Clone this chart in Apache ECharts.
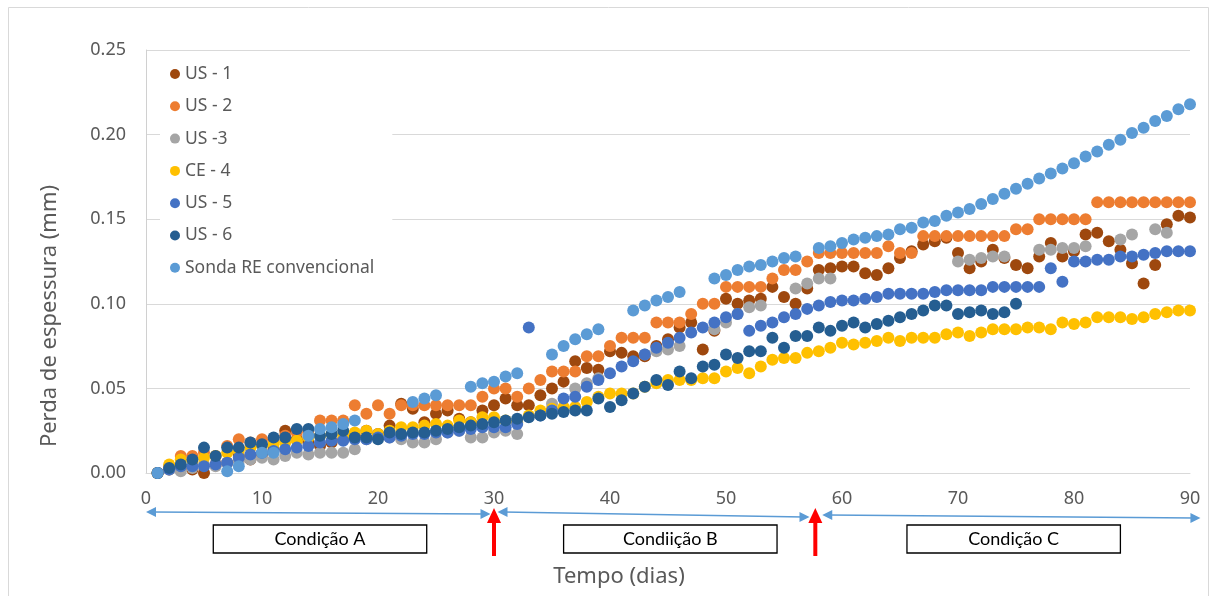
<!DOCTYPE html>
<html>
<head>
<meta charset="utf-8">
<script src="https://cdn.jsdelivr.net/npm/echarts@6/dist/echarts.min.js"></script>
<style>html,body{margin:0;padding:0;background:#fff}#c{width:1216px;height:596px}</style>
</head>
<body>
<div id="c"></div>
<script>
const days = [1,2,3,4,5,6,7,8,9,10,11,12,13,14,15,16,17,18,19,20,21,22,23,24,25,26,27,28,29,30,31,32,33,34,35,36,37,38,39,40,41,42,43,44,45,46,47,48,49,50,51,52,53,54,55,56,57,58,59,60,61,62,63,64,65,66,67,68,69,70,71,72,73,74,75,76,77,78,79,80,81,82,83,84,85,86,87,88,89,90];

const us1 = [0,0.002,0.003,0.002,0.000,0.005,0.006,0.010,0.008,0.011,0.014,0.025,0.020,0.018,0.016,0.018,0.020,0.022,0.025,0.023,
0.028,0.041,0.038,0.030,0.035,0.037,0.032,0.030,0.037,0.040,0.044,0.040,0.040,0.046,0.050,0.054,0.066,0.062,0.061,0.072,
0.071,0.069,0.069,0.075,0.079,0.086,0.089,0.073,0.084,0.103,0.100,0.102,0.103,0.110,0.104,0.100,0.109,0.120,0.121,0.122,
0.122,0.118,0.117,0.121,0.127,0.131,0.135,0.137,0.139,0.130,0.121,0.125,0.132,0.127,0.123,0.121,0.128,0.136,0.128,0.131,
0.141,0.142,0.137,0.132,0.124,0.112,0.123,0.147,0.152,0.151];

const us2 = [0,0.004,0.010,0.010,0.012,0.010,0.016,0.020,0.018,0.020,0.019,0.022,0.024,0.025,0.031,0.031,0.031,0.040,0.035,0.040,
0.035,0.040,0.040,0.040,0.040,0.040,0.040,0.040,0.045,0.050,0.050,0.045,0.050,0.055,0.060,0.060,0.060,0.069,0.069,0.075,
0.080,0.080,0.080,0.089,0.089,0.089,0.094,0.100,0.100,0.110,0.110,0.110,0.110,0.115,0.120,0.120,0.125,0.130,0.130,0.130,
0.130,0.130,0.130,0.134,0.130,0.130,0.140,0.140,0.140,0.140,0.140,0.140,0.140,0.140,0.144,0.144,0.150,0.150,0.150,0.150,
0.150,0.160,0.160,0.160,0.160,0.160,0.160,0.160,0.160,0.160];

const us3 = [0,0.002,0.001,0.003,0.005,0.004,0.006,0.007,0.008,0.009,0.008,0.010,0.012,0.011,0.012,0.012,0.012,0.014,0.020,0.021,
0.021,0.020,0.018,0.018,0.020,0.024,0.025,0.021,0.021,0.024,0.025,0.023,null,null,0.041,null,0.050,0.053,0.056,null,
null,null,0.070,0.072,0.073,0.075,null,null,0.085,0.089,0.094,0.098,0.099,null,null,0.109,0.112,0.115,0.115,null,
null,null,null,null,null,null,null,null,null,0.125,0.126,0.127,0.128,0.128,null,null,0.132,0.132,0.133,0.133,
0.134,null,null,0.138,0.141,null,0.144,0.142,null,null];

const ce4 = [0,0.005,0.008,0.007,0.009,0.010,0.012,0.013,0.015,0.016,0.017,0.018,0.019,0.021,0.022,0.023,0.022,0.024,0.025,0.023,
0.025,0.027,0.027,0.028,0.029,0.028,0.031,0.030,0.033,0.033,0.031,0.030,0.034,0.037,0.038,0.039,0.039,0.042,0.045,0.047,
0.047,0.047,0.051,0.053,0.055,0.055,0.055,0.056,0.056,0.060,0.062,0.059,0.063,0.067,0.068,0.068,0.071,0.072,0.074,0.077,
0.076,0.077,0.078,0.080,0.078,0.080,0.080,0.080,0.082,0.083,0.081,0.083,0.085,0.085,0.085,0.086,0.086,0.085,0.089,0.088,
0.089,0.092,0.092,0.092,0.091,0.092,0.094,0.095,0.096,0.096];

const us5 = [0,0.002,0.004,0.004,0.004,0.005,0.006,0.009,0.011,0.012,0.013,0.014,0.015,0.016,0.018,0.019,0.019,0.020,0.020,0.021,
0.021,0.022,0.023,0.023,0.024,0.024,0.025,0.026,0.027,0.027,0.027,0.029,0.086,0.034,0.037,0.044,0.045,0.051,0.055,0.059,
0.063,0.066,0.070,0.074,0.077,0.080,0.083,0.086,0.089,0.092,0.094,0.084,0.087,0.089,0.092,0.094,0.097,0.099,0.101,0.102,
0.102,0.103,0.104,0.106,0.106,0.106,0.106,0.107,0.108,0.108,0.108,0.108,0.110,0.110,0.110,0.110,0.110,0.121,0.113,0.125,
0.125,0.126,0.126,0.128,0.128,0.129,0.130,0.131,0.131,0.131];

const us6 = [0,0.003,0.005,0.008,0.015,0.010,0.015,0.015,0.018,0.017,0.021,0.021,0.026,0.026,0.022,0.023,0.025,0.021,0.021,0.020,
0.024,0.023,0.024,0.024,0.025,0.026,0.027,0.028,0.029,0.030,0.031,0.032,0.033,0.034,0.035,0.036,0.037,0.037,0.044,0.039,
0.043,0.047,0.051,0.055,0.052,0.060,0.056,0.063,0.064,0.070,0.068,0.072,0.072,0.080,0.074,0.081,0.081,0.086,0.084,0.087,
0.089,0.086,0.088,0.090,0.092,0.094,0.096,0.099,0.099,0.094,0.095,0.096,0.094,0.095,0.100,null,null,null,null,null,
null,null,null,null,null,null,null,null,null,null];

const sonda = [0,null,null,null,null,null,0.001,0.004,null,0.012,0.012,null,null,0.022,0.026,0.027,0.029,0.031,null,null,
null,null,0.042,0.044,0.046,null,null,0.051,0.053,0.054,0.057,0.059,null,null,0.070,0.075,0.079,0.082,0.085,null,
null,0.096,0.099,0.102,0.104,0.107,null,null,0.115,0.117,0.120,0.122,0.123,0.125,0.127,0.128,null,0.133,0.134,0.136,
0.138,0.139,0.140,0.141,0.144,0.145,0.148,0.149,0.152,0.154,0.156,0.159,0.162,0.165,0.168,0.171,0.174,0.177,0.180,0.183,
0.187,0.190,0.194,0.197,0.201,0.204,0.208,0.211,0.215,0.218];

const seriesNames = ['US - 1','US - 2','US -3','CE - 4','US - 5','US - 6','Sonda RE convencional'];
const seriesColors = ['#9E480E','#ED7D31','#A5A5A5','#FFC000','#4472C4','#255E91','#5B9BD5'];
const seriesValues = [us1, us2, us3, ce4, us5, us6, sonda];

const yTicks = [0, 0.05, 0.10, 0.15, 0.20, 0.25];
const xTicks = [0, 10, 20, 30, 40, 50, 60, 70, 80, 90];
const xTitle = 'Tempo (dias)';
const yTitle = 'Perda de espessura (mm)';

const conditions = [
  {label: 'Condição A', from: 5.8, to: 24.2},
  {label: 'Condiição B', from: 36.0, to: 54.4},
  {label: 'Condição C', from: 65.6, to: 84.0}
];
const spans = [[0, 29.7], [30.3, 57.2], [58.3, 90.9]];
const changeDays = [30, 57.7];

const FONT = 'Noto Sans';
const chart = echarts.init(document.getElementById('c'), null, {renderer: 'canvas'});

function pairs(vals) {
  return days.map((d, i) => [d, vals[i]]);
}

const option = {
  animation: false,
  backgroundColor: '#fff',
  textStyle: {fontFamily: FONT},
  grid: {left: 146, right: 26, top: 50, bottom: 123},
  xAxis: {
    type: 'value', min: xTicks[0], max: xTicks[xTicks.length - 1], interval: 10,
    axisLine: {show: true, lineStyle: {color: '#D9D9D9', width: 1}},
    axisTick: {show: false},
    splitLine: {show: false},
    axisLabel: {color: '#595959', fontSize: 18, margin: 17, fontFamily: FONT}
  },
  yAxis: {
    type: 'value', min: yTicks[0], max: yTicks[yTicks.length - 1], interval: 0.05,
    axisLine: {show: true, lineStyle: {color: '#D0D0D0', width: 1}},
    axisTick: {show: false},
    splitLine: {show: true, lineStyle: {color: '#D9D9D9', width: 1}},
    axisLabel: {color: '#595959', fontSize: 18, margin: 20, fontFamily: FONT,
      formatter: v => v.toFixed(2)}
  },
  legend: {
    orient: 'vertical', left: 160, top: 57,
    icon: 'circle', itemWidth: 10, itemHeight: 10, itemGap: 14.3,
    backgroundColor: '#fff', padding: [8, 18, 10, 10],
    textStyle: {color: '#595959', fontSize: 17.5, fontFamily: FONT},
    data: seriesNames
  },
  series: seriesNames.map((n, k) => ({
    name: n, type: 'scatter', symbol: 'circle', symbolSize: 12,
    itemStyle: {color: seriesColors[k], opacity: 1},
    data: pairs(seriesValues[k])
  }))
};
chart.setOption(option);

function px(x, y) { return chart.convertToPixel({gridIndex: 0}, [x, y]); }

const y0 = px(0, 0)[1];
const g = [];
// outer border
g.push({type: 'rect', shape: {x: 8.5, y: 7.5, width: 1200, height: 620}, style: {fill: null, stroke: '#D9D9D9', lineWidth: 1}, z: 0, silent: true});
// axis titles
g.push({type: 'text', x: 50, y: 316, rotation: Math.PI / 2,
  style: {text: yTitle, fill: '#595959', font: '22px "Noto Sans"', textAlign: 'center', textVerticalAlign: 'middle'}, silent: true});
g.push({type: 'text', x: 619, y: 577,
  style: {text: xTitle, fill: '#595959', font: '22px "Noto Sans"', textAlign: 'center', textVerticalAlign: 'middle'}, silent: true});

function arrowHead(x, y, dir, color) {
  const L = 10, W = 5;
  return {type: 'polygon', shape: {points: [[x, y], [x - dir * L, y - W], [x - dir * L, y + W]]}, style: {fill: color}, z: 10, silent: true};
}
const blue = '#5B9BD5';
const spanY = [[39, 41], [39, 44], [42, 45]];
spans.forEach((s, i) => {
  const xa = px(s[0], 0)[0], xb = px(s[1], 0)[0];
  const ya = y0 + spanY[i][0], yb = y0 + spanY[i][1];
  g.push({type: 'line', shape: {x1: xa + 6, y1: ya, x2: xb - 6, y2: yb}, style: {stroke: blue, lineWidth: 1.5}, z: 10, silent: true});
  g.push(arrowHead(xa, ya, -1, blue));
  g.push(arrowHead(xb, yb, 1, blue));
});
changeDays.forEach(d => {
  const x = px(d, 0)[0];
  g.push({type: 'polygon', shape: {points: [[x, y0 + 35], [x - 7, y0 + 50], [x + 7, y0 + 50]]}, style: {fill: '#FF0000'}, z: 11, silent: true});
  g.push({type: 'rect', shape: {x: x - 2, y: y0 + 49, width: 4, height: 34}, style: {fill: '#FF0000'}, z: 11, silent: true});
});
conditions.forEach(c => {
  const xa = px(c.from, 0)[0], xb = px(c.to, 0)[0];
  g.push({type: 'rect', shape: {x: xa, y: y0 + 52, width: xb - xa, height: 28}, style: {fill: '#fff', stroke: '#000', lineWidth: 1.3}, z: 10, silent: true});
  g.push({type: 'text', x: (xa + xb) / 2, y: y0 + 66, style: {text: c.label, fill: '#000', font: '18px Lato', textAlign: 'center', textVerticalAlign: 'middle'}, z: 12, silent: true});
});
chart.setOption({graphic: g});
</script>
</body>
</html>
